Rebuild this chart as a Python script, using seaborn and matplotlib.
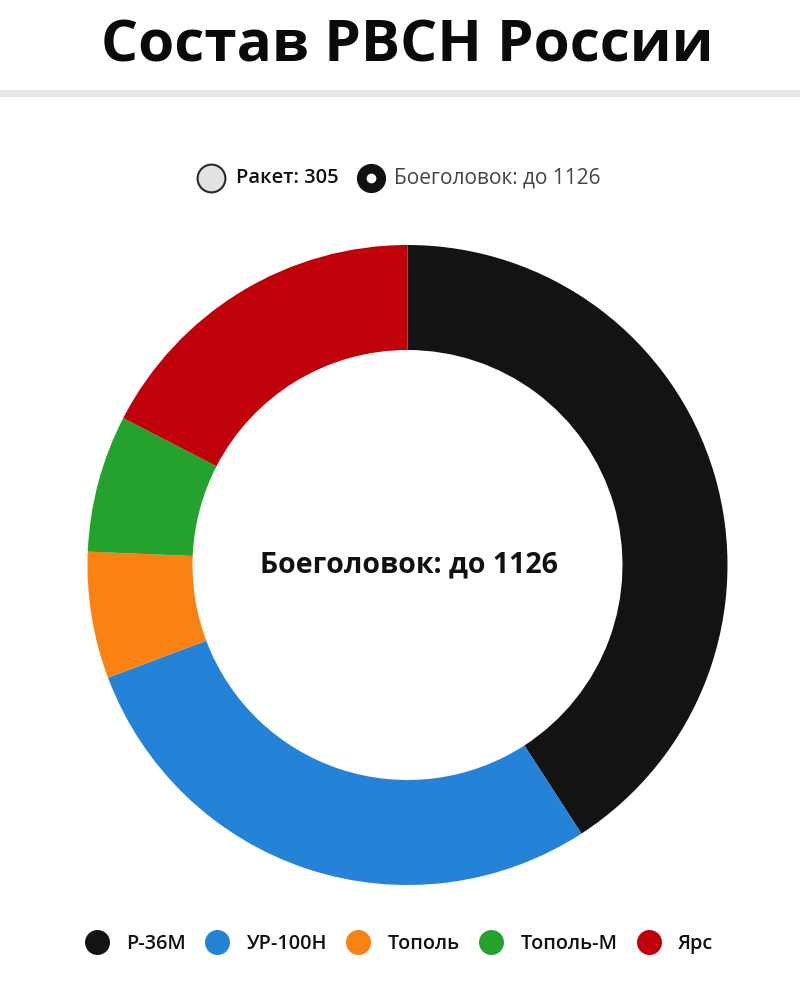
import matplotlib.pyplot as plt
import seaborn as sns
from matplotlib.lines import Line2D

# Data: warheads per missile type
systems = ['Р-36М', 'УР-100Н', 'Тополь', 'Тополь-М', 'Ярс']
warheads = [460, 320, 72, 78, 196]
colors = ['#131313', '#2482d7', '#fa8212', '#25a22d', '#c0000a']

title = 'Состав РВСН России'
missiles_label = 'Ракет: 305'
warheads_label = 'Боеголовок: до 1126'

W, H = 800, 989

sns.set_theme(style='white')
plt.rcParams['font.family'] = ['Open Sans', 'DejaVu Sans']

fig = plt.figure(figsize=(W / 100, H / 100), dpi=100)
ax = fig.add_axes([0, 0, 1, 1])
ax.axis('off')

# title and separator
ax.text(407, H - 46, title, ha='center', va='center', fontsize=42,
        fontweight='bold', color='#0a0a0a')
ax.axhspan(H - 97, H - 90, color='#e6e6e6', lw=0)

# radio-style toggle on top
ax.plot(211, H - 178, marker='o', ms=20, mfc='#e2e2e2', mec='#2a2a2a', mew=1.5)
ax.text(236, H - 178, missiles_label, ha='left', va='center', fontsize=14.5,
        fontweight='semibold', color='#111111')
ax.plot(371, H - 178, marker='o', ms=20, mfc='#111111', mec='#111111')
ax.plot(371, H - 178, marker='o', ms=6, mfc='white', mec='white')
ax.text(394, H - 178, warheads_label, ha='left', va='center', fontsize=15,
        color='#444444')

# donut
ax.pie(warheads, colors=colors, startangle=90, counterclock=False,
       center=(407.5, H - 565), radius=320,
       wedgeprops=dict(width=105, edgecolor='none'))
ax.set_xlim(0, W)
ax.set_ylim(0, H)
ax.set_aspect('equal')

ax.text(409, H - 565, warheads_label, ha='center', va='center', fontsize=20.5,
        fontweight='bold', color='#111111')

# bottom legend
handles = [Line2D([], [], marker='o', ls='', ms=18, mfc=c, mec='none')
           for c in colors]
leg = ax.legend(handles, systems, ncol=5, loc='center',
                bbox_to_anchor=(399 / W, 1 - 944 / H), frameon=False,
                prop={'size': 14.3, 'weight': 'semibold'},
                handlelength=1.25, handletextpad=0.85, columnspacing=0.95,
                borderpad=0, borderaxespad=0)
for t in leg.get_texts():
    t.set_color('#111111')

fig.savefig('out.png', dpi=100, facecolor='white')
